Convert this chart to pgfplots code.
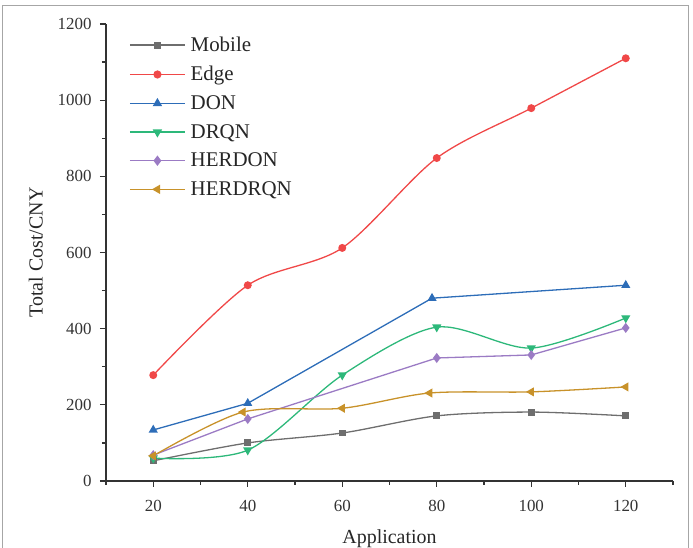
\documentclass[border=0pt]{standalone}
\usepackage{pgfplots}
\pgfplotsset{compat=1.18}
\usepackage{fontspec}
\setmainfont{Liberation Serif}
\definecolor{cMob}{HTML}{6E6E6E}
\definecolor{cEdge}{HTML}{F04848}
\definecolor{cDON}{HTML}{2D6DB8}
\definecolor{cDRQN}{HTML}{2DB87A}
\definecolor{cHD}{HTML}{9B7BC4}
\definecolor{cHR}{HTML}{C8922A}
\definecolor{axc}{HTML}{333333}
\begin{document}
\begin{tikzpicture}[x=1bp,y=1bp]
\useasboundingbox (-106,-67) rectangle (587,481);
\draw[gray!70,line width=1bp] (-103,-67) -- (-103,475) -- (582,475) -- (582,-67);
\begin{axis}[
  at={(0,0)}, anchor=south west,
  scale only axis, width=567bp, height=457bp,
  xmin=10, xmax=130, ymin=0, ymax=1200,
  xtick={20,40,60,80,100,120},
  ytick={0,200,400,600,800,1000,1200},
  minor xtick={10,30,50,70,90,110,130},
  minor ytick={100,300,500,700,900,1100},
  axis x line*=bottom, axis y line*=left,
  axis line style={axc,line width=1.3bp,-},
  tick style={axc,line width=1.3bp},
  tick align=outside,
  major tick length=6bp, minor tick length=4bp,
  /pgf/number format/assume math mode=true,
  /pgf/number format/1000 sep={},
  ticklabel style={font=\fontsize{17}{17}\selectfont, text=axc},
  xticklabel style={yshift=-10bp},
  yticklabel style={xshift=-5bp},
  xlabel={Application}, ylabel={Total Cost/CNY},
  label style={font=\fontsize{20}{20}\selectfont, text=black!85},
  xlabel style={yshift=-11bp},
  ylabel style={yshift=8bp},
  clip=false,
  legend style={draw=none, fill=none, at={(0,1)}, anchor=north west,
    xshift=20bp, yshift=-9bp,
    font=\fontsize{21}{21}\selectfont, text=black!85,
    row sep=9.3bp, column sep=3bp},
  legend cell align=left,
  legend image code/.code={\draw[line width=1.5bp,mark repeat=2,mark phase=2] plot coordinates {(0bp,0bp) (27.5bp,0bp) (55bp,0bp)};},
  every axis plot/.append style={line width=1.3bp, mark size=3.3bp},
]
\addplot[cMob, smooth, mark=square*, mark options={fill=cMob}, mark size=2.8bp] coordinates {(20,53) (40,100) (60,126) (80,171) (100,181) (120,171)};
\addlegendentry{Mobile}
\addplot[cEdge, smooth, mark=*, mark options={fill=cEdge}] coordinates {(20,278) (40,514) (60,612) (80,848) (100,979) (120,1110)};
\addlegendentry{Edge}
\addplot[cDON, mark=triangle*, mark options={fill=cDON}, mark size=4bp] coordinates {(20,134) (40,204) (79,480) (120,514)};
\addlegendentry{DON}
\addplot[cDRQN, smooth, mark=triangle*, mark options={fill=cDRQN, rotate=180}, mark size=4bp] coordinates {(20,60) (40,81) (60,278) (80,404) (100,349) (120,428)};
\addlegendentry{DRQN}
\addplot[cHD, mark=diamond*, mark options={fill=cHD}, mark size=4bp] coordinates {(20,68) (40,163) (80,323) (100,331) (120,402)};
\addlegendentry{HERDON}
\addplot[cHR, smooth, mark=triangle*, mark options={fill=cHR, rotate=90}, mark size=4bp] coordinates {(20,66) (39,181) (60,191) (78.5,231) (100,234) (120,247)};
\addlegendentry{HERDRQN}
\end{axis}
\end{tikzpicture}
\end{document}
